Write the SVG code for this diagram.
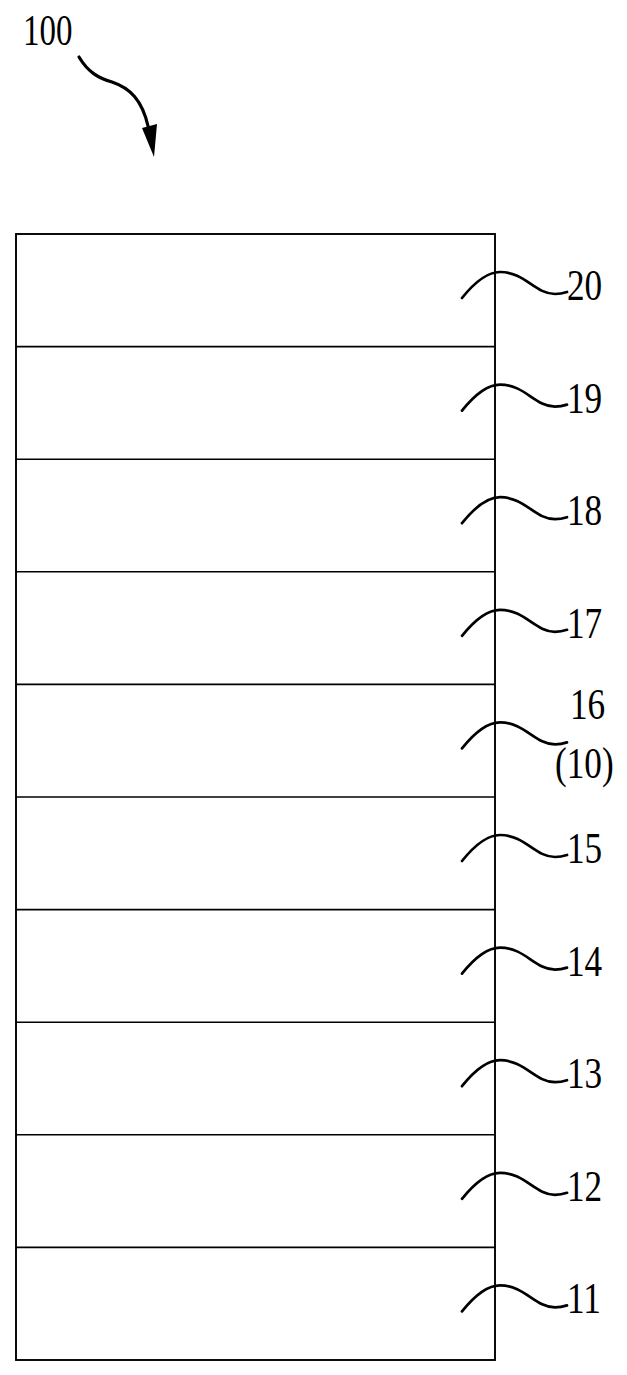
<svg xmlns="http://www.w3.org/2000/svg" width="627" height="1375" viewBox="0 0 627 1375">
<style>
.lbl{font-family:"Liberation Serif","Times New Roman",serif;font-size:44px;fill:#000}
.sq{fill:none;stroke:#000;stroke-width:2.7;stroke-linecap:round}
.ln{stroke:#000;stroke-width:1.6}
</style>
<defs>
<path id="squig" class="sq" d="M462,64 C478,44 490,38 500,38 C525,38 535,60 555,60 C560,60 564,59 567,58"/>
</defs>
<g id="ref100">
<text class="lbl" transform="translate(23,45) scale(0.75,1)">100</text>
<path d="M79,57 C88,72 98,78 112,82 C130,88 142,100 148,126" fill="none" stroke="#000" stroke-width="3.2" stroke-linecap="round"/>
<polygon points="142,128 157,124 154,157" fill="#000"/>
</g>
<g id="stack">
<rect x="16" y="234" width="479" height="1126" fill="#fff" stroke="#000" stroke-width="1.9"/>
</g>
<g id="connectors">
<line class="ln" x1="16" y1="346.6" x2="495" y2="346.6"/>
<line class="ln" x1="16" y1="459.2" x2="495" y2="459.2"/>
<line class="ln" x1="16" y1="571.8" x2="495" y2="571.8"/>
<line class="ln" x1="16" y1="684.4" x2="495" y2="684.4"/>
<line class="ln" x1="16" y1="797" x2="495" y2="797"/>
<line class="ln" x1="16" y1="909.6" x2="495" y2="909.6"/>
<line class="ln" x1="16" y1="1022.2" x2="495" y2="1022.2"/>
<line class="ln" x1="16" y1="1134.8" x2="495" y2="1134.8"/>
<line class="ln" x1="16" y1="1247.4" x2="495" y2="1247.4"/>
</g>
<g id="layer20"><use href="#squig" transform="translate(0,234)"/><text class="lbl" transform="translate(567,300) scale(0.8,1)">20</text></g>
<g id="layer19"><use href="#squig" transform="translate(0,346.6)"/><text class="lbl" transform="translate(567,412.6) scale(0.8,1)">19</text></g>
<g id="layer18"><use href="#squig" transform="translate(0,459.2)"/><text class="lbl" transform="translate(567,525.2) scale(0.8,1)">18</text></g>
<g id="layer17"><use href="#squig" transform="translate(0,571.8)"/><text class="lbl" transform="translate(567,637.8) scale(0.8,1)">17</text></g>
<g id="layer16"><use href="#squig" transform="translate(0,684.4)"/><text class="lbl" transform="translate(570,719) scale(0.8,1)">16</text><text class="lbl" transform="translate(555,778) scale(0.8,1)">(10)</text></g>
<g id="layer15"><use href="#squig" transform="translate(0,797)"/><text class="lbl" transform="translate(567,863) scale(0.8,1)">15</text></g>
<g id="layer14"><use href="#squig" transform="translate(0,909.6)"/><text class="lbl" transform="translate(567,975.6) scale(0.8,1)">14</text></g>
<g id="layer13"><use href="#squig" transform="translate(0,1022.2)"/><text class="lbl" transform="translate(567,1088.2) scale(0.8,1)">13</text></g>
<g id="layer12"><use href="#squig" transform="translate(0,1134.8)"/><text class="lbl" transform="translate(567,1200.8) scale(0.8,1)">12</text></g>
<g id="layer11"><use href="#squig" transform="translate(0,1247.4)"/><text class="lbl" transform="translate(567,1313.4) scale(0.8,1)">11</text></g>
</svg>
